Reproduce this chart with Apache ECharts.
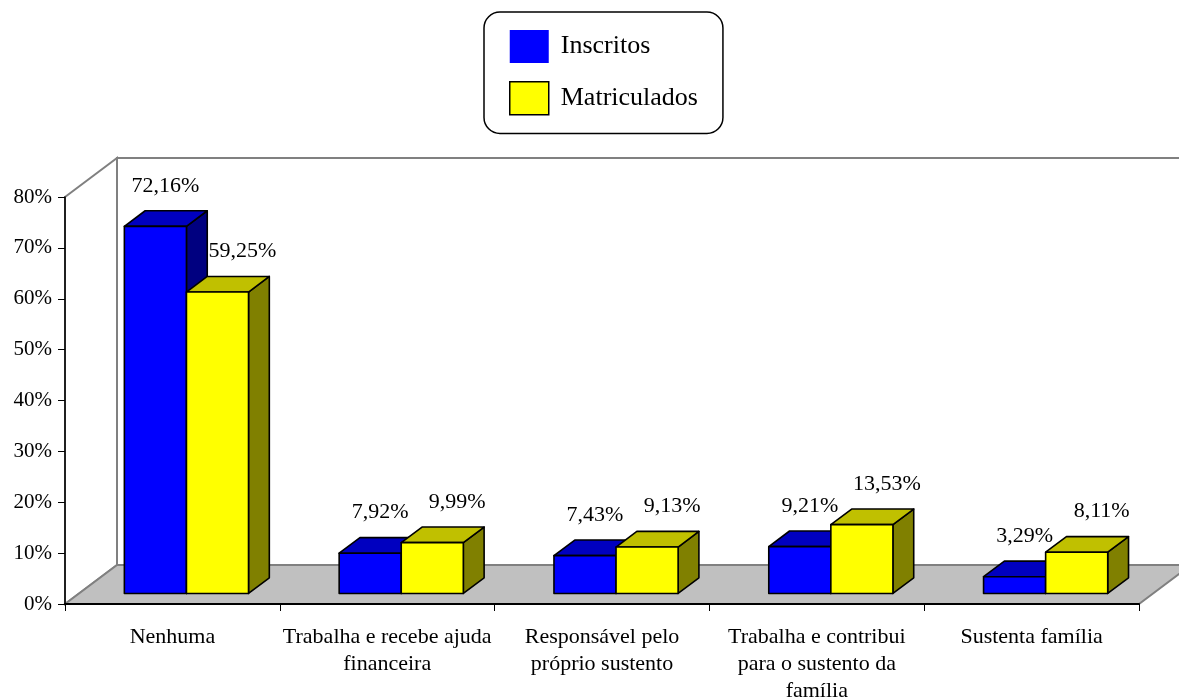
<!DOCTYPE html>
<html>
<head>
<meta charset="utf-8">
<script src="https://cdn.jsdelivr.net/npm/echarts@6/dist/echarts.min.js"></script>
<style>
  html, body { margin: 0; padding: 0; background: #fff; }
  #chart { width: 1179px; height: 698px; }
</style>
</head>
<body>
<div id="chart"></div>
<script>
var categories = [
    'Nenhuma',
    'Trabalha e recebe ajuda\nfinanceira',
    'Responsável pelo\npróprio sustento',
    'Trabalha e contribui\npara o sustento da\nfamília',
    'Sustenta família'
];
var inscritos = [72.16, 7.92, 7.43, 9.21, 3.29];
var matriculados = [59.25, 9.99, 9.13, 13.53, 8.11];
var yMin = 0, yMax = 80, yStep = 10;

var FONT = '"Liberation Serif", "Times New Roman", serif';
var DEPTH = [52, -39];   // full depth of the floor, px
var FRONT = 0.27;        // where the bars start inside the floor
var BAR_DEPTH = 0.40;    // how deep the bars are

var chart = echarts.init(document.getElementById('chart'));

var fmt = function (v) {
    return v.toFixed(2).replace('.', ',') + '%';
};

// walls and floor behind the bars
var renderFrame = function (params, api) {
    var cs = params.coordSys;
    var x0 = cs.x, y0 = cs.y, x1 = cs.x + cs.width, y1 = cs.y + cs.height;
    var dx = DEPTH[0], dy = DEPTH[1];
    var gray = '#808080';
    return {
        type: 'group',
        children: [
            {
                type: 'polygon',
                shape: { points: [[x0 + dx, y0 + dy], [x1 + dx, y0 + dy], [x1 + dx, y1 + dy], [x0 + dx, y1 + dy]] },
                style: { fill: '#fff', stroke: gray, lineWidth: 2 }
            },
            {
                type: 'polygon',
                shape: { points: [[x0, y0], [x0 + dx, y0 + dy], [x0 + dx, y1 + dy], [x0, y1]] },
                style: { fill: '#fff', stroke: gray, lineWidth: 2 }
            },
            {
                type: 'polygon',
                shape: { points: [[x0, y1], [x0 + dx, y1 + dy], [x1 + dx, y1 + dy], [x1, y1]] },
                style: { fill: '#c0c0c0', stroke: gray, lineWidth: 2 }
            }
        ]
    };
};

var makeBar = function (idx, front, topc, side, labelShift) {
    return function (params, api) {
        var cat = api.value(0), v = api.value(1);
        var base = api.coord([cat, 0]);
        var top = api.coord([cat, v]);
        var w = api.size([1, 0])[0] * 0.289;
        var fx = DEPTH[0] * FRONT, fy = DEPTH[1] * FRONT;
        var bx = DEPTH[0] * BAR_DEPTH, by = DEPTH[1] * BAR_DEPTH;
        var xl = base[0] - w + idx * w + fx;
        var xr = xl + w;
        var yb = base[1] + fy, yt = top[1] + fy;
        var edge = { stroke: '#000', lineWidth: 1.6, lineJoin: 'round' };
        return {
            type: 'group',
            children: [
                {
                    type: 'polygon',
                    shape: { points: [[xr, yt], [xr + bx, yt + by], [xr + bx, yb + by], [xr, yb]] },
                    style: echarts.util.extend({ fill: side }, edge)
                },
                {
                    type: 'polygon',
                    shape: { points: [[xl, yt], [xr, yt], [xr + bx, yt + by], [xl + bx, yt + by]] },
                    style: echarts.util.extend({ fill: topc }, edge)
                },
                {
                    type: 'rect',
                    shape: { x: xl, y: yt, width: w, height: yb - yt },
                    style: echarts.util.extend({ fill: front }, edge)
                },
                {
                    type: 'text',
                    style: {
                        text: fmt(v),
                        x: (xl + xr) / 2 + labelShift,
                        y: yt + by - 25,
                        align: 'center',
                        verticalAlign: 'middle',
                        fontFamily: FONT,
                        fontSize: 22,
                        fill: '#000'
                    }
                }
            ]
        };
    };
};

var option = {
    animation: false,
    backgroundColor: '#fff',
    grid: {
        left: 65, top: 197, width: 1074, height: 407,
        containLabel: false, outerBoundsMode: 'none'
    },
    legend: {
        orient: 'vertical',
        left: 484,
        top: 12,
        padding: [18, 25, 18, 25],
        itemGap: 18,
        itemWidth: 39,
        itemHeight: 33,
        borderColor: '#000',
        borderWidth: 1.5,
        borderRadius: 16,
        backgroundColor: '#fff',
        selectedMode: false,
        textStyle: { fontFamily: FONT, fontSize: 26, color: '#000', padding: [0, 0, 0, 7] },
        data: [
            { name: 'Inscritos', icon: 'rect', itemStyle: { color: '#0000ff', borderWidth: 0 } },
            { name: 'Matriculados', icon: 'rect', itemStyle: { color: '#ffff00', borderColor: '#000', borderWidth: 1.5 } }
        ]
    },
    xAxis: {
        type: 'category',
        data: categories,
        z: 10,
        axisLine: { show: true, lineStyle: { color: '#000', width: 2 } },
        axisTick: { show: true, length: 7, lineStyle: { color: '#000' } },
        axisLabel: {
            interval: 0, margin: 20, lineHeight: 27,
            fontFamily: FONT, fontSize: 22, color: '#000'
        },
        splitLine: { show: false }
    },
    yAxis: {
        type: 'value',
        min: yMin, max: yMax, interval: yStep,
        z: 10,
        axisLine: { show: true, lineStyle: { color: '#000', width: 1.5 } },
        axisTick: { show: true, length: 7, lineStyle: { color: '#000' } },
        axisLabel: {
            margin: 13, formatter: '{value}%',
            fontFamily: FONT, fontSize: 21, color: '#000'
        },
        splitLine: { show: false }
    },
    series: [
        {
            name: 'frame',
            type: 'custom',
            silent: true,
            z: 1,
            renderItem: renderFrame,
            data: [[0, 0]]
        },
        {
            name: 'Inscritos',
            type: 'custom',
            z: 3,
            itemStyle: { color: '#0000ff' },
            renderItem: makeBar(0, '#0000ff', '#0000c0', '#000080', 10),
            data: inscritos.map(function (v, i) { return [i, v]; })
        },
        {
            name: 'Matriculados',
            type: 'custom',
            z: 4,
            itemStyle: { color: '#ffff00' },
            renderItem: makeBar(1, '#ffff00', '#c0c000', '#808000', 25),
            data: matriculados.map(function (v, i) { return [i, v]; })
        }
    ]
};

chart.setOption(option);
</script>
</body>
</html>
